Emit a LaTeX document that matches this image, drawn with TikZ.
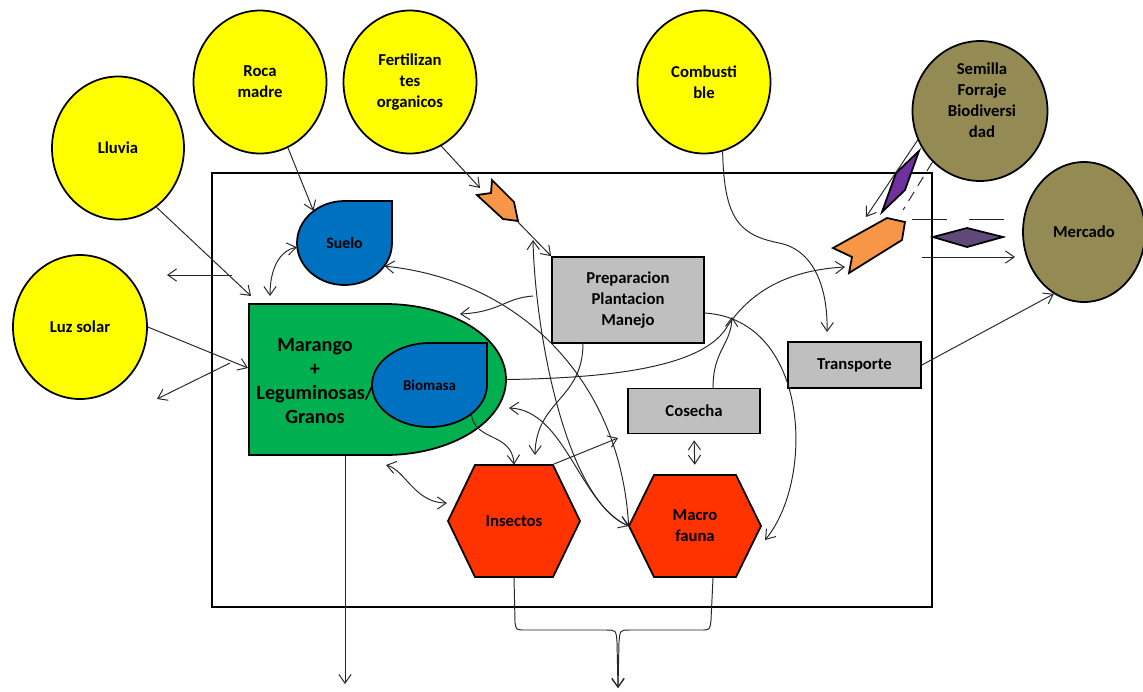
\documentclass[tikz,border=0pt]{standalone}
\usepackage{fontspec}
\setmainfont{Carlito}
\usetikzlibrary{shapes.geometric, arrows.meta}

\definecolor{amarillo}{HTML}{FFFF00}
\definecolor{oliva}{HTML}{948A54}
\definecolor{azul}{HTML}{0070C0}
\definecolor{verde}{HTML}{00B050}
\definecolor{gris}{HTML}{BFBFBF}
\definecolor{rojo}{HTML}{FF3300}
\definecolor{naranja}{HTML}{F79646}
\definecolor{morado}{HTML}{7030A0}
\definecolor{moradob}{HTML}{5F497A}

\begin{document}
\begin{tikzpicture}[x = 0.02cm, y = -0.02cm, font = \bfseries\fontsize{9.5}{12}\selectfont,
  > = {Straight Barb[length = 5pt, width = 7pt]},
  flujo/.style = {line width = 0.55pt, draw = black!85},
  borde/.style = {draw = black, line width = 1pt},
  entrada/.style = {ellipse, borde, fill = amarillo, minimum width = 2.66cm, minimum height = 2.86cm, align = center, inner sep = 0pt},
  externo/.style = {entrada, fill = oliva},
  caja/.style = {rectangle, borde, fill = gris, align = center},
  hueco/.style = {inner sep = 0pt, align = center}]
  \useasboundingbox (0,0) rectangle (1143,691);

  \draw[line width = 1.6pt] (212,173) rectangle (932,607);

  \node[entrada, minimum width = 2.64cm] (lluvia) at (118,148) {Lluvia};
  \node[entrada] (roca) at (260,82) {Roca\\madre};
  \node[entrada] (fert) at (410,82) {Fertilizan\\tes\\organicos};
  \node[entrada, minimum width = 2.68cm, minimum height = 2.88cm] (luz) at (80,327) {Luz solar};
  \node[entrada] (combus) at (704,82) {Combusti\\ble};
  \node[externo, minimum width = 2.7cm, minimum height = 2.8cm] (semilla) at (980,111) {};
  \node[align = center] (semillatexto) at (982,100) {Semilla\\Forraje\\Biodiversi\\dad};
  \node[externo, minimum width = 2.44cm, minimum height = 2.8cm] (mercado) at (1084,232) {Mercado};

  % cultivo y biomasa
  \draw[borde, fill = verde] (249,304) -- (385,304) arc[start angle = 270, end angle = 450, x radius = 121, y radius = 75.5] -- (249,455) -- cycle;
  \node[hueco, minimum width = 5.14cm, minimum height = 3.02cm] (cultivo) at (377.5,379.5) {};
  \node[align = center, font = \bfseries\fontsize{11.5}{13.6}\selectfont] (cultivotexto) at (315,381) {Marango\\+\\Leguminosas/\\Granos};
  \draw[borde, fill = azul] (429.5,343) -- (487,343) -- (487,385) arc[start angle = 0, end angle = 270, x radius = 57.5, y radius = 42] -- cycle;
  \node[ellipse, hueco, minimum width = 2.3cm, minimum height = 1.68cm, font = \bfseries\fontsize{8.5}{10}\selectfont] (biomasa) at (429.5,385) {Biomasa};

  \draw[borde, fill = azul] (344.5,201) -- (392,201) -- (392,243) arc[start angle = 0, end angle = 270, x radius = 47.5, y radius = 42] -- cycle;
  \node[ellipse, hueco, minimum width = 1.9cm, minimum height = 1.68cm, font = \bfseries\fontsize{9}{10}\selectfont] (suelo) at (344.5,243) {Suelo};

  \node[caja, minimum width = 3.04cm, minimum height = 1.72cm] (prep) at (628,300) {Preparacion\\Plantacion\\Manejo};
  \node[caja, minimum width = 2.64cm, minimum height = 0.9cm] (cosecha) at (694,411) {Cosecha};
  \node[caja, minimum width = 2.66cm, minimum height = 0.92cm] (transp) at (854.5,365) {Transporte};

  \draw[borde, fill = rojo] (475,465) -- (553,465) -- (580,521) -- (553,577) -- (475,577) -- (448,521) -- cycle;
  \node[hueco, minimum width = 2.64cm, minimum height = 2.24cm] (insectos) at (514,521) {Insectos};
  \draw[borde, fill = rojo] (654,475) -- (736,475) -- (761,526) -- (736,577) -- (654,577) -- (629,526) -- cycle;
  \node[hueco, minimum width = 2.64cm, minimum height = 2.04cm] (macro) at (695,526) {Macro\\fauna};

  \draw[borde, fill = naranja] (492,180) -- (514,202) -- (518,221) -- (503,219) -- (477,195) -- (491,193) -- cycle;
  \draw[borde, fill = naranja] (833,248) -- (887,218) -- (905,222) -- (902,240) -- (849,273) -- (852,257) -- cycle;
  \draw[borde, fill = morado] (919,151) -- (905,190) -- (882,212) -- (896,173) -- cycle;
  \draw[borde, fill = moradob] (933,237) -- (967,228) -- (1003,237) -- (967,247) -- cycle;

  \coordinate (lluviain) at (251,296);
  \coordinate (luzin) at (248,368);
  \coordinate (fugaa) at (232,275);
  \coordinate (fugaaext) at (167,275);
  \coordinate (fugab) at (230,363);
  \coordinate (fugabext) at (157,399);
  \coordinate (cultivoin) at (270,296);
  \coordinate (fertout) at (480,188);
  \coordinate (naranjaa) at (517,221);
  \coordinate (prepizq) at (533,296);
  \coordinate (cultivosup) at (460,314);
  \coordinate (prepinf) at (583,343);
  \coordinate (insectossup) at (535,455);
  \coordinate (cultivoinf) at (386,465);
  \coordinate (insectosizq) at (447,503);
  \coordinate (insectosder) at (554,464);
  \coordinate (cosechaizq) at (618,438);
  \coordinate (cultivoder) at (509,408);
  \coordinate (subida) at (533,240);
  \coordinate (prepder) at (705,313);
  \coordinate (macroder) at (765,540);
  \coordinate (naranjab) at (845,267);
  \coordinate (cosechasup) at (713,388);
  \coordinate (cruce) at (732,317);
  \coordinate (transpsup) at (827,332);
  \coordinate (naranjabsup) at (866,217);
  \coordinate (rayaa) at (903,210);
  \coordinate (rayab) at (912,219);
  \coordinate (rayac) at (1007,219);
  \coordinate (ventaa) at (922,257);
  \coordinate (ventab) at (1015,257);
  \coordinate (salidaa) at (345,456);
  \coordinate (salidab) at (345,684);
  \coordinate (macroinf) at (713,578);
  \coordinate (salidac) at (618,688);

  \draw[flujo, ->] (lluvia.-57) -- (lluviain);
  \draw[flujo, ->] (roca.-67) -- (suelo.134);
  \draw[flujo, ->] (fert.-64) -- (fertout);
  \draw[flujo, ->] (naranjaa) -- (prep.north west);
  \draw[flujo, ->] (luz.east) -- (luzin);
  \draw[flujo, ->] (fugaa) -- (fugaaext);
  \draw[flujo, ->] (fugab) -- (fugabext);
  \draw[flujo, <->] (cultivoin) .. controls (270,265) and (282,250) .. (suelo.185);
  \draw[flujo, <->] (suelo.-30) .. controls (520,280) and (620,380) .. (macro.west);
  \draw[flujo, <->] (cultivoder) .. controls (565,410) and (580,505) .. (macro.west);
  \draw[flujo, ->] (macro.west) .. controls (565,500) and (535,330) .. (subida);
  \draw[flujo, ->] (prepizq) .. controls (505,298) and (500,312) .. (cultivosup);
  \draw[flujo, ->] (prepinf) .. controls (583,400) and (536,400) .. (insectossup);
  \draw[flujo, ->] (biomasa.-35) .. controls (475,442) and (512,432) .. (insectos.north);
  \draw[flujo, <->] (cultivoinf) .. controls (405,470) and (415,503) .. (insectosizq);
  \draw[flujo, ->] (insectosder) -- (cosechaizq);
  \draw[flujo, <->, shorten < = 0.12cm, shorten > = 0.2cm] (cosecha.south) -- (macro.north);
  \draw[flujo, ->] (prepder) .. controls (810,320) and (815,480) .. (macroder);
  \draw[flujo, ->] (cultivo.east) .. controls (620,378) and (700,365) .. (725,330) .. controls (750,290) and (790,270) .. (naranjab);
  \draw[flujo, ->] (cosechasup) .. controls (713,350) and (731,345) .. (cruce);
  \draw[flujo, ->] (combus.-75) .. controls (724,220) and (740,235) .. (779,243) .. controls (815,250) and (828,290) .. (transpsup);
  \draw[flujo, ->] (transp.east) -- (mercado.244);
  \draw[flujo, ->] (semilla.205) -- (naranjabsup);
  \draw[flujo, dash pattern = on 6pt off 4pt] (semilla.227) -- (rayaa);
  \draw[flujo, dash pattern = on 20pt off 12.5pt] (rayab) -- (rayac);
  \draw[flujo, ->] (ventaa) -- (ventab);
  \draw[flujo, ->] (salidaa) -- (salidab);
  \draw[flujo, ->] (insectos.south) -- (515,622) .. controls (516,630) .. (526,630) -- (606,630) .. controls (616,630) .. (617,642) -- (salidac);
  \draw[flujo, ->] (macroinf) -- (711,620) .. controls (710,630) .. (700,630) -- (630,630) .. controls (620,630) .. (619,642) -- (salidac);
\end{tikzpicture}
\end{document}
